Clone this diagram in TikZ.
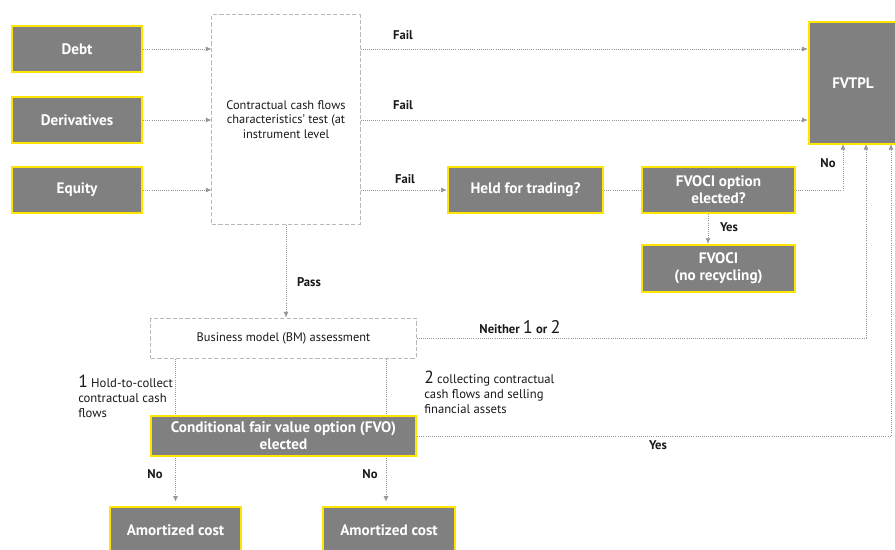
\documentclass[tikz,border=0pt]{standalone}
\usepackage{fontspec}
\setmainfont{PT Sans}
\usetikzlibrary{arrows.meta}
\definecolor{boxgray}{RGB}{128,128,128}
\definecolor{eyyellow}{RGB}{255,230,0}
\definecolor{linegray}{RGB}{150,150,150}
\definecolor{dashgray}{RGB}{185,185,185}
\definecolor{darktext}{RGB}{25,25,25}
\begin{document}
\begin{tikzpicture}[x=0.025cm, y=-0.025cm,
  greybox/.style={fill=boxgray, draw=eyyellow, line width=1.6pt, text=white,
    font=\bfseries\fontsize{10.8}{12}\selectfont, align=center, inner sep=0pt},
  testbox/.style={draw=dashgray, dash pattern=on 3pt off 1.5pt, line width=0.7pt,
    align=center, inner sep=0pt, text=darktext, font=\fontsize{8.8}{10.5}\selectfont},
  flow/.style={draw=linegray, densely dotted, line width=0.5pt, -{Latex[length=4pt,width=3.5pt]}},
  link/.style={draw=linegray, densely dotted, line width=0.5pt},
  lbl/.style={text=darktext, font=\bfseries\fontsize{9}{10}\selectfont},
  note/.style={text=darktext, font=\fontsize{9}{10.6}\selectfont, align=left, anchor=north west, inner sep=0pt}]
\useasboundingbox (0,0) rectangle (895,549);

\node[greybox, minimum width=3.25cm, minimum height=1.15cm] (debt) at (77,49) {Debt};
\node[greybox, minimum width=3.25cm, minimum height=1.15cm] (deriv) at (77,120) {Derivatives};
\node[greybox, minimum width=3.25cm, minimum height=1.15cm] (equity) at (77,190) {Equity};
\node[testbox, minimum width=3.7cm, minimum height=5.225cm] (ccf) at (286,119.5)
  {Contractual cash flows\\characteristics' test (at\\instrument level};
\node[greybox, minimum width=2.2cm, minimum height=3.05cm] (fvtpl) at (853,83) {FVTPL};
\node[greybox, minimum width=3.875cm, minimum height=1.15cm] (held) at (525.5,190) {Held for trading?};
\node[greybox, minimum width=3.825cm, minimum height=1.15cm] (fvoci) at (718.5,190) {FVOCI option\\elected?};
\node[greybox, minimum width=3.825cm, minimum height=1.175cm] (fvocinr) at (718.5,268.5) {FVOCI\\(no recycling)};
\node[testbox, minimum width=6.625cm, minimum height=1cm] (bm) at (283.5,338)
  {Business model (BM) assessment};
\node[greybox, minimum width=3.275cm, minimum height=1.15cm] (amort1) at (175.5,530) {Amortized cost};
\node[greybox, minimum width=3.3cm, minimum height=1.15cm] (amort2) at (389,530) {Amortized cost};

\coordinate (fvtplno) at (843,144);
\coordinate (fvtplneither) at (866,144);
\coordinate (fvtplyes) at (891,144);

\draw[flow] (debt) -- (ccf.west |- debt);
\draw[flow] (deriv) -- (ccf.west |- deriv);
\draw[flow] (equity) -- (ccf.west |- equity);
\draw[flow] (ccf.east |- debt) -- (fvtpl.west |- debt);
\draw[flow] (ccf.east |- deriv) -- (fvtpl.west |- deriv);
\draw[flow] (ccf.east |- held) -- (held);
\draw[link] (held) -- (fvoci);
\draw[flow] (fvoci.east) -| (fvtplno);
\draw[flow] (fvoci.south -| 708,0) -- (fvocinr.north -| 708,0);
\draw[flow] (ccf.south) -- (ccf.south |- bm.north);
\draw[flow] (bm.east) -| (fvtplneither);
\draw[flow, shorten >=3pt] (bm.south -| amort1.north) -- (amort1.north);
\draw[flow, shorten >=3pt] (bm.south -| 386,0) -- (amort2.north -| 386,0);

\node[greybox, minimum width=6.625cm, minimum height=1cm] (fvo) at (283.5,436)
  {Conditional fair value option (FVO)\\elected};
\draw[flow] (fvo.east) -| (fvtplyes);

\node[lbl] (fail1) at (403,35) {Fail};
\node[lbl] (fail2) at (403,105) {Fail};
\node[lbl] (fail3) at (405,179) {Fail};
\node[lbl] (nofvoci) at (828,163) {No};
\node[lbl] (yesfvoci) at (729,227) {Yes};
\node[lbl] (pass) at (309,282) {Pass};
\node[lbl] (neither) at (520,327) {Neither {\mdseries\fontsize{13}{13}\selectfont 1} or {\mdseries\fontsize{13}{13}\selectfont 2}};
\node[lbl] (yesfvo) at (658,445) {Yes};
\node[lbl] (no1) at (155,474) {No};
\node[lbl] (no2) at (370,474) {No};
\node[note] (htc) at (78,375) {{\fontsize{12.5}{11}\selectfont 1} Hold-to-collect\\contractual cash\\flows};
\node[note] (htcs) at (424,371) {{\fontsize{12.5}{11}\selectfont 2} collecting contractual\\cash flows and selling\\financial assets};
\end{tikzpicture}
\end{document}
